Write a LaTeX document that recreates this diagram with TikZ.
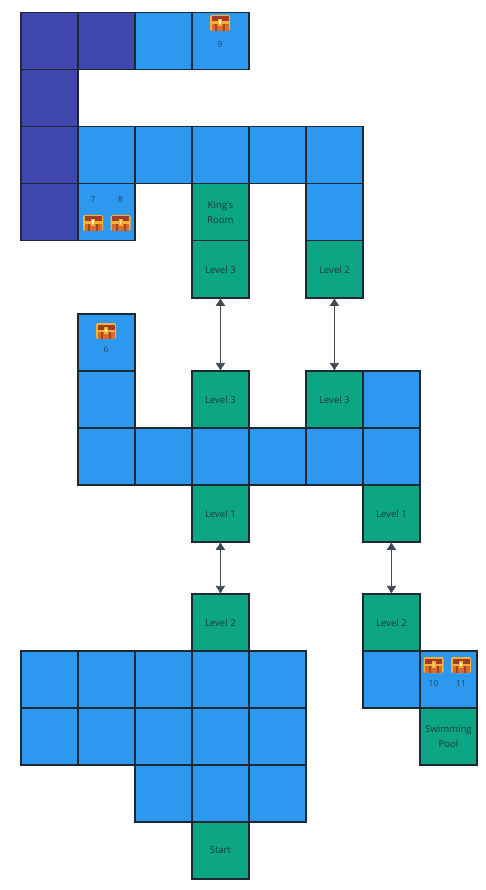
\documentclass[tikz,border=0pt]{standalone}
\usepackage{xcolor}
\usepackage{fontspec}
\setmainfont{Open Sans}
\usetikzlibrary{positioning, arrows.meta}
\definecolor{roomblue}{HTML}{2C98F0}
\definecolor{roomdark}{HTML}{3F47AF}
\definecolor{roomgreen}{HTML}{0CA685}
\definecolor{roomline}{HTML}{1E2833}
\definecolor{chestgold}{HTML}{F8B233}
\definecolor{chestred}{HTML}{A33C22}
\definecolor{chestwood}{HTML}{D86C2E}
\definecolor{chestshade}{HTML}{A5431E}
\tikzset{
  room/.style={draw=roomline, line width=1.2pt, minimum size=57pt, inner sep=0pt, outer sep=0pt, align=center},
  hall/.style={room, fill=roomblue},
  vault/.style={room, fill=roomdark},
  stairs/.style={room, fill=roomgreen, text=roomline!85!roomgreen, font=\fontsize{9.6}{14.3}\selectfont},
  chestno/.style={inner sep=0pt, text=roomline!75!roomblue, font=\fontsize{8.4}{10}\selectfont},
  link/.style={{Latex[length=8pt,width=10pt]}-{Latex[length=8pt,width=10pt]}, draw=roomline!85!white, line width=0.8pt},
  chest/.pic={
    \fill[chestgold, rounded corners=1.5pt] (-10,8) -- (-10,-8) -- (10,-8) -- (10,8) -- cycle;
    \fill[chestred] (-8.5,-6.5) rectangle (8.5,-1.5);
    \fill[chestwood] (-8.5,1) rectangle (8.5,8);
    \fill[chestshade] (-5,1) rectangle (-3,8);
    \fill[chestshade] (3,1) rectangle (5,8);
    \fill[chestgold] (-2,-4) rectangle (2,3);
    \fill[white!80!chestgold] (-0.8,-2.5) rectangle (0.8,1);
  }
}
\begin{document}
\begin{tikzpicture}[x=1pt, y=-1pt, node distance=0pt]
  \useasboundingbox (0,0) rectangle (485,890);

  % upper floor
  \node[vault] (upa) at (49.4,41.4) {};
  \node[vault, right=of upa] (upb) {};
  \node[hall, right=of upb] (upc) {};
  \node[hall, right=of upc] (upd) {};
  \node[vault, below=of upa] (upe) {};
  \node[vault, below=of upe] (upf) {};
  \node[hall, right=of upf] (upg) {};
  \node[hall, right=of upg] (uph) {};
  \node[hall, right=of uph] (upi) {};
  \node[hall, right=of upi] (upj) {};
  \node[hall, right=of upj] (upk) {};
  \node[vault, below=of upf] (upl) {};
  \node[hall, right=of upl] (upm) {};
  \node[hall, below=of upk] (upn) {};
  \node[stairs, below=of upi] (king) {King's\\Room};
  \node[stairs, below=of king] (uplevela) {Level 3};
  \node[stairs, below=of upn] (uplevelb) {Level 2};

  % middle floor
  \node[hall] (mida) at (106.4,342.4) {};
  \node[hall, below=of mida] (midb) {};
  \node[hall, below=of midb] (midc) {};
  \node[hall, right=of midc] (midd) {};
  \node[hall, right=of midd] (mide) {};
  \node[hall, right=of mide] (midf) {};
  \node[hall, right=of midf] (midg) {};
  \node[hall, right=of midg] (midh) {};
  \node[stairs, above=of mide] (midlevela) {Level 3};
  \node[stairs, above=of midg] (midlevelb) {Level 3};
  \node[hall, above=of midh] (midi) {};
  \node[stairs, below=of mide] (midlevelc) {Level 1};
  \node[stairs, below=of midh] (midleveld) {Level 1};

  % ground floor
  \node[stairs] (lowlevela) at (220.4,622.4) {Level 2};
  \node[hall, below=of lowlevela] (lowd) {};
  \node[hall, left=of lowd] (lowc) {};
  \node[hall, left=of lowc] (lowb) {};
  \node[hall, left=of lowb] (lowa) {};
  \node[hall, right=of lowd] (lowe) {};
  \node[hall, below=of lowa] (lowf) {};
  \node[hall, below=of lowb] (lowg) {};
  \node[hall, below=of lowc] (lowh) {};
  \node[hall, below=of lowd] (lowi) {};
  \node[hall, below=of lowe] (lowj) {};
  \node[hall, below=of lowh] (lowk) {};
  \node[hall, below=of lowi] (lowl) {};
  \node[hall, below=of lowj] (lowm) {};
  \node[stairs, below=of lowl] (start) {Start};

  % pool wing
  \node[stairs] (lowlevelb) at (391.4,622.4) {Level 2};
  \node[hall, below=of lowlevelb] (poola) {};
  \node[hall, right=of poola] (poolb) {};
  \node[stairs, below=of poolb] (pool) {Swimming\\Pool};

  % stairs between floors
  \draw[link] (uplevela.south) -- (midlevela.north);
  \draw[link] (uplevelb.south) -- (midlevelb.north);
  \draw[link] (midlevelc.south) -- (lowlevela.north);
  \draw[link] (midleveld.south) -- (lowlevelb.north);

  % chests
  \pic at (220,23) {chest};
  \node[chestno] (noa) at (220,45) {9};
  \node[chestno] (nob) at (93,200) {7};
  \node[chestno] (noc) at (120.5,200) {8};
  \pic at (93,223) {chest};
  \pic at (120.5,223) {chest};
  \pic at (106,331) {chest};
  \node[chestno] (nod) at (106,349) {6};
  \pic at (433.5,665) {chest};
  \pic at (461,665) {chest};
  \node[chestno] (noe) at (433.5,683) {10};
  \node[chestno] (nof) at (461,683) {11};

\end{tikzpicture}
\end{document}
